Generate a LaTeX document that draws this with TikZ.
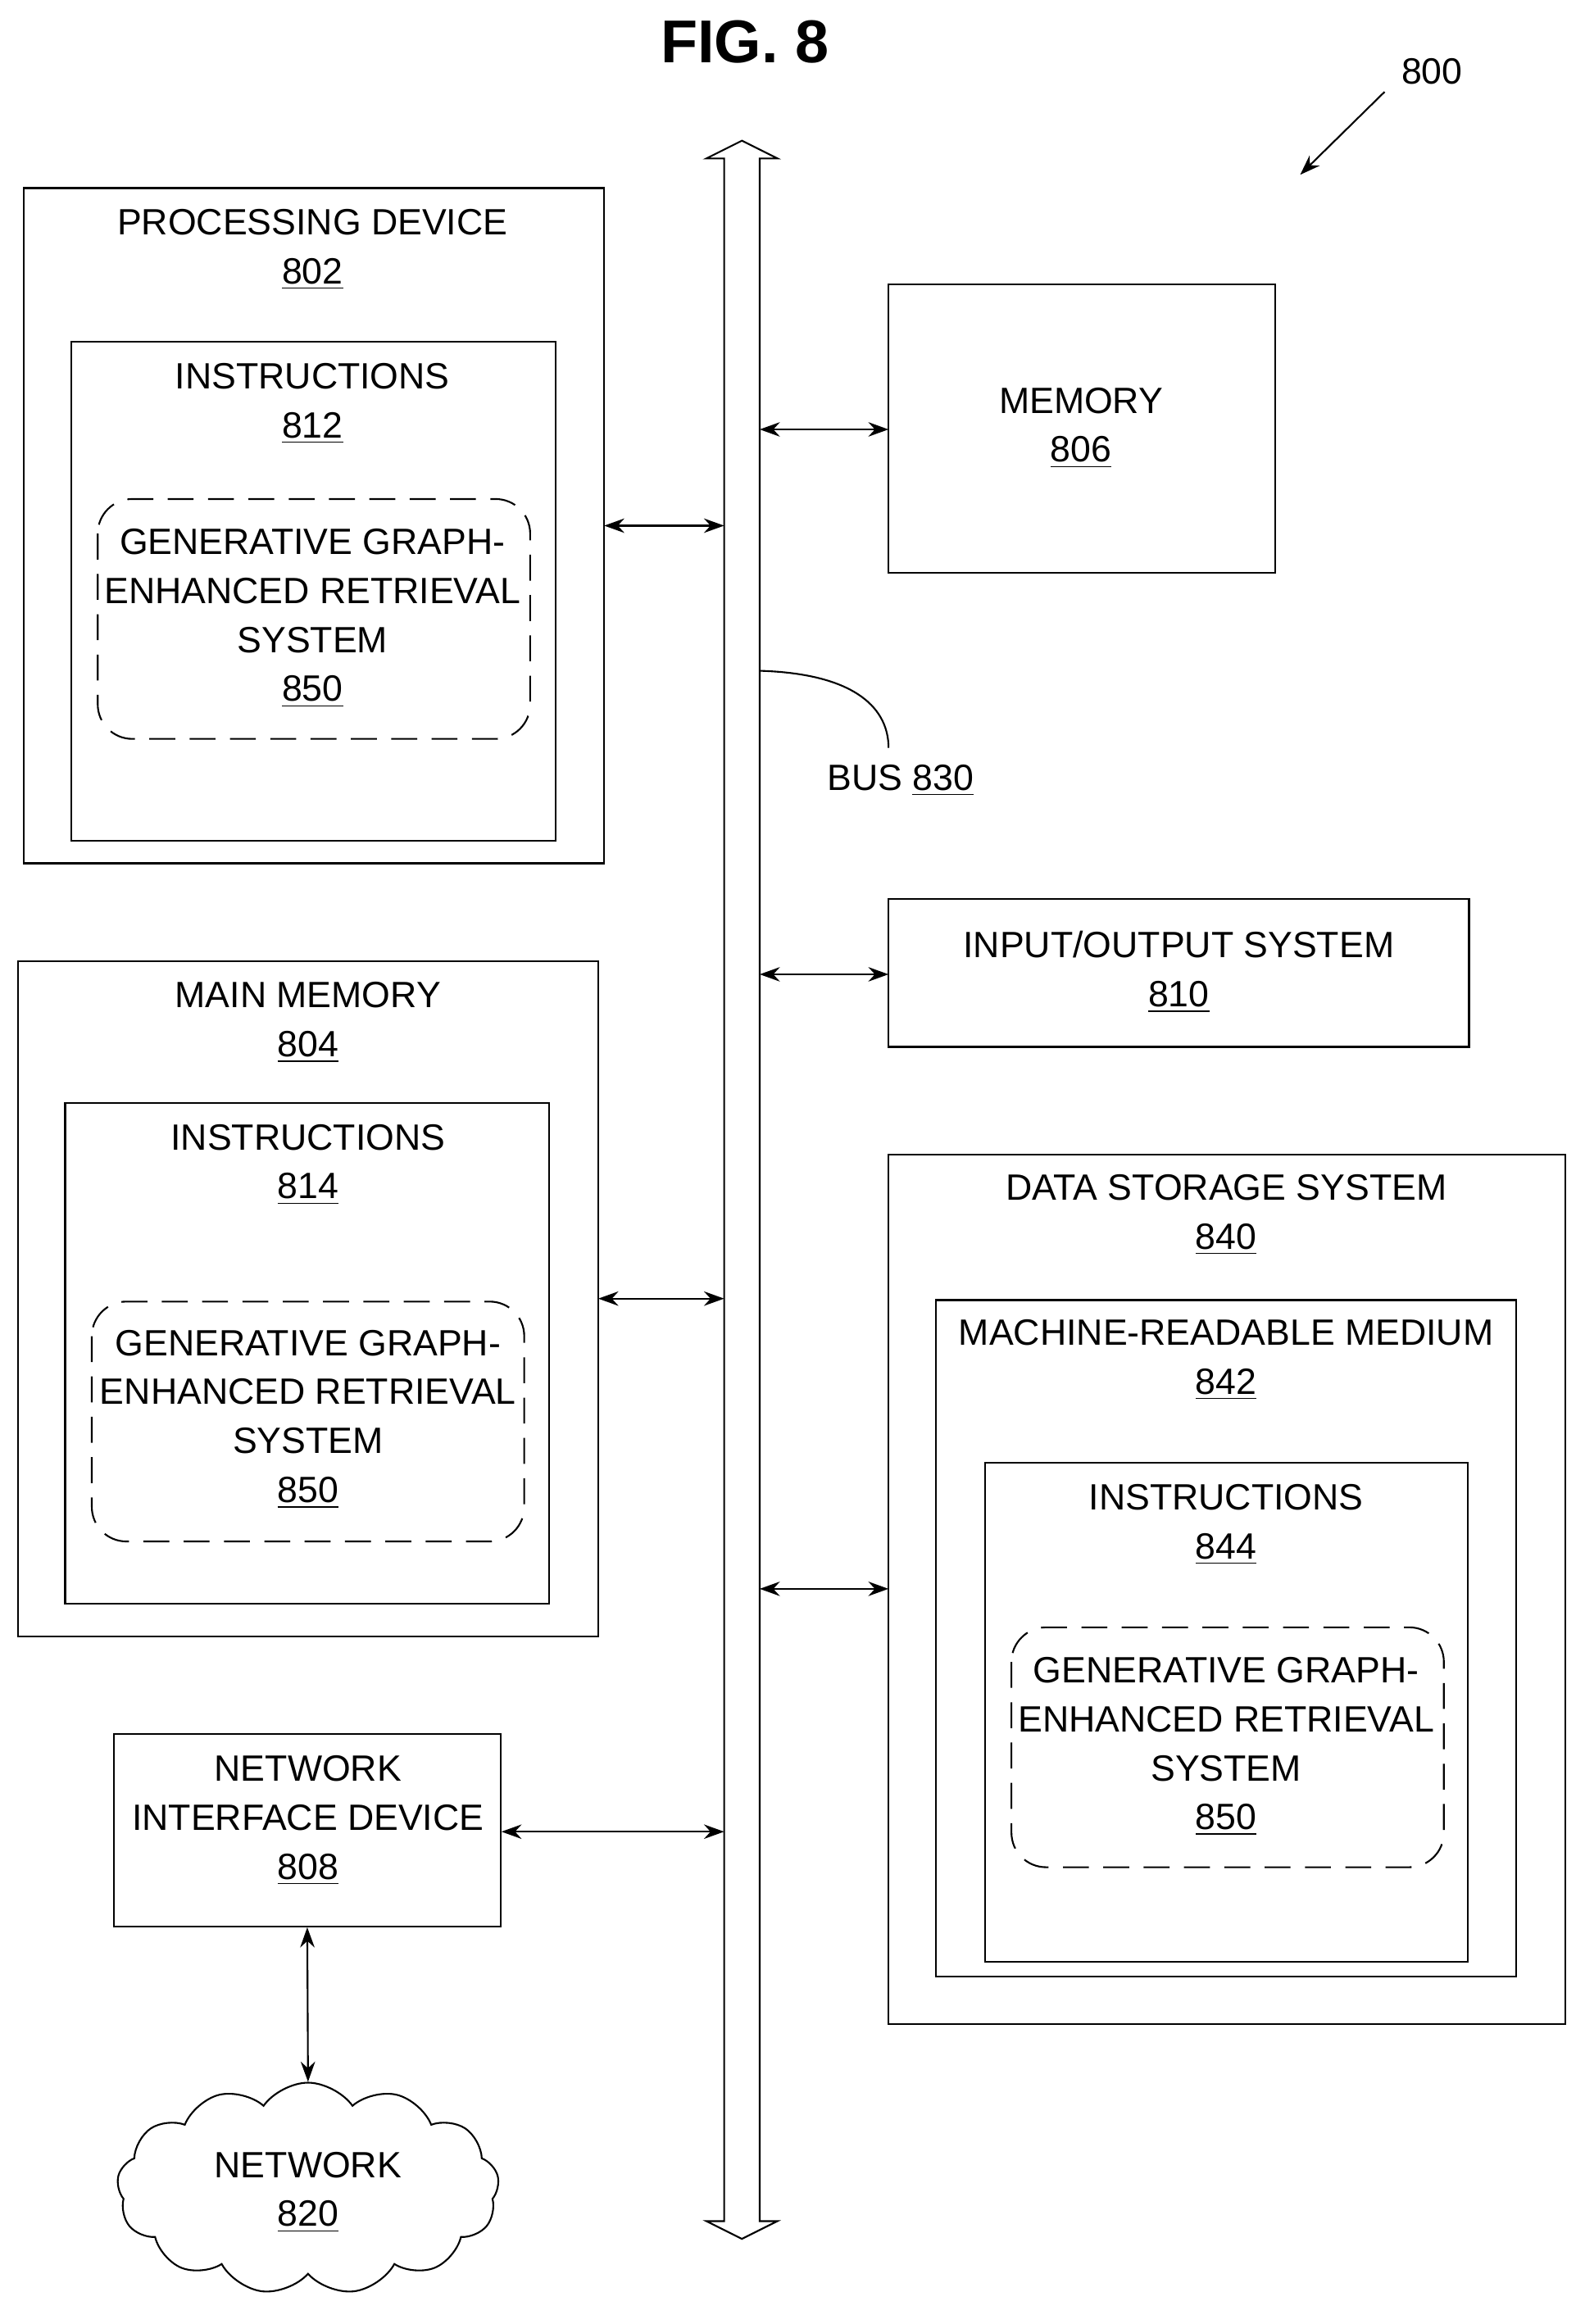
\documentclass[tikz,border=0pt]{standalone}
\usepackage{fontspec}
\setmainfont{Liberation Sans}
\usetikzlibrary{arrows.meta,shapes.symbols}
\newlength\px
\setlength\px{0.01807cm}
\tikzset{
  box/.style={draw, line width=0.6pt, minimum width=#1},
  dbox/.style={draw, line width=0.6pt, dash pattern=on 9pt off 5pt, rounded corners=12pt},
  lbl/.style={align=center, font=\fontsize{12.7}{17}\selectfont, inner sep=0pt},
  link/.style={{Stealth[length=7pt,width=5pt]}-{Stealth[length=7pt,width=5pt]}, line width=0.6pt}
}
\begin{document}
\begin{tikzpicture}[x=\px, y=-\px]
\useasboundingbox (0,0) rectangle (1070,1569.5);
\node[font=\fontsize{21}{25}\selectfont\bfseries] (title) at (503,28) {FIG. 8};
% reference arrow
\node[lbl] (ref) at (967,48) {800};
\coordinate (refend) at (878,118);
\draw[-{Stealth[length=7pt,width=5pt]}, line width=0.6pt] (935,62) -- (refend);
% bus
\draw[line width=0.6pt] (501,95) -- (477,107) -- (489,107) -- (489,1500) -- (477,1500)
  -- (501,1512) -- (525,1500) -- (513,1500) -- (513,107) -- (525,107) -- cycle;
\coordinate (busL) at (489,0);
\coordinate (busR) at (513,0);
\draw[line width=0.6pt] (513,453) .. controls (580,455) and (600,480) .. (600,505);
\node[lbl] (bus) at (608,527) {BUS \underline{830}};
% processing device
\draw[box] (16,127) rectangle (408,583);
\node[lbl] (pd) at (211,168.5) {PROCESSING DEVICE\\\underline{802}};
\draw[box] (48,231) rectangle (375,568);
\node[lbl] (ins1) at (211,272.5) {INSTRUCTIONS\\\underline{812}};
\draw[dbox] (66,337) rectangle (358,499);
\node[lbl] (gg1) at (211,417.5) {GENERATIVE GRAPH-\\ENHANCED RETRIEVAL\\SYSTEM\\\underline{850}};
\draw[link] (408,355) -- (489,355);
% memory
\draw[box] (600,192) rectangle (861,387);
\node[lbl] (mem) at (730,289) {MEMORY\\\underline{806}};
\draw[link] (513,290) -- (600,290);
% io
\draw[box] (600,607) rectangle (992,707);
\node[lbl] (io) at (796,656.5) {INPUT/OUTPUT SYSTEM\\\underline{810}};
\draw[link] (513,658) -- (600,658);
% main memory
\draw[box] (12,649) rectangle (404,1105);
\node[lbl] (mm) at (208,690.5) {MAIN MEMORY\\\underline{804}};
\draw[box] (44,745) rectangle (371,1083);
\node[lbl] (ins2) at (208,786.5) {INSTRUCTIONS\\\underline{814}};
\draw[dbox] (62,879) rectangle (354,1041);
\node[lbl] (gg2) at (208,958.5) {GENERATIVE GRAPH-\\ENHANCED RETRIEVAL\\SYSTEM\\\underline{850}};
\draw[link] (404,877) -- (489,877);
% data storage
\draw[box] (600,780) rectangle (1057,1367);
\node[lbl] (ds) at (828,820.5) {DATA STORAGE SYSTEM\\\underline{840}};
\draw[box] (632,878) rectangle (1024,1335);
\node[lbl] (mrm) at (828,918.5) {MACHINE-READABLE MEDIUM\\\underline{842}};
\draw[box] (665,988) rectangle (991,1325);
\node[lbl] (ins3) at (828,1029.5) {INSTRUCTIONS\\\underline{844}};
\draw[dbox] (683,1099) rectangle (975,1261);
\node[lbl] (gg3) at (828,1179.5) {GENERATIVE GRAPH-\\ENHANCED RETRIEVAL\\SYSTEM\\\underline{850}};
\draw[link] (513,1073) -- (600,1073);
% network interface
\node[box=261\px, minimum height=130\px] (nid) at (207.5,1236) {};
\node[lbl] (nidt) at (208,1229.5) {NETWORK\\INTERFACE DEVICE\\\underline{808}};
\draw[link] (nid.east |- 0,1237) -- (489,1237);
\node[draw, line width=0.6pt, cloud, cloud puffs=13, cloud puff arc=110, aspect=1.8,
  minimum width=258\px, minimum height=143\px, inner sep=0pt] (net) at (208,1478) {};
\node[lbl] (nett) at (208,1480.5) {NETWORK\\\underline{820}};
\draw[link] (nid.south) -- (net.north);
\end{tikzpicture}
\end{document}
